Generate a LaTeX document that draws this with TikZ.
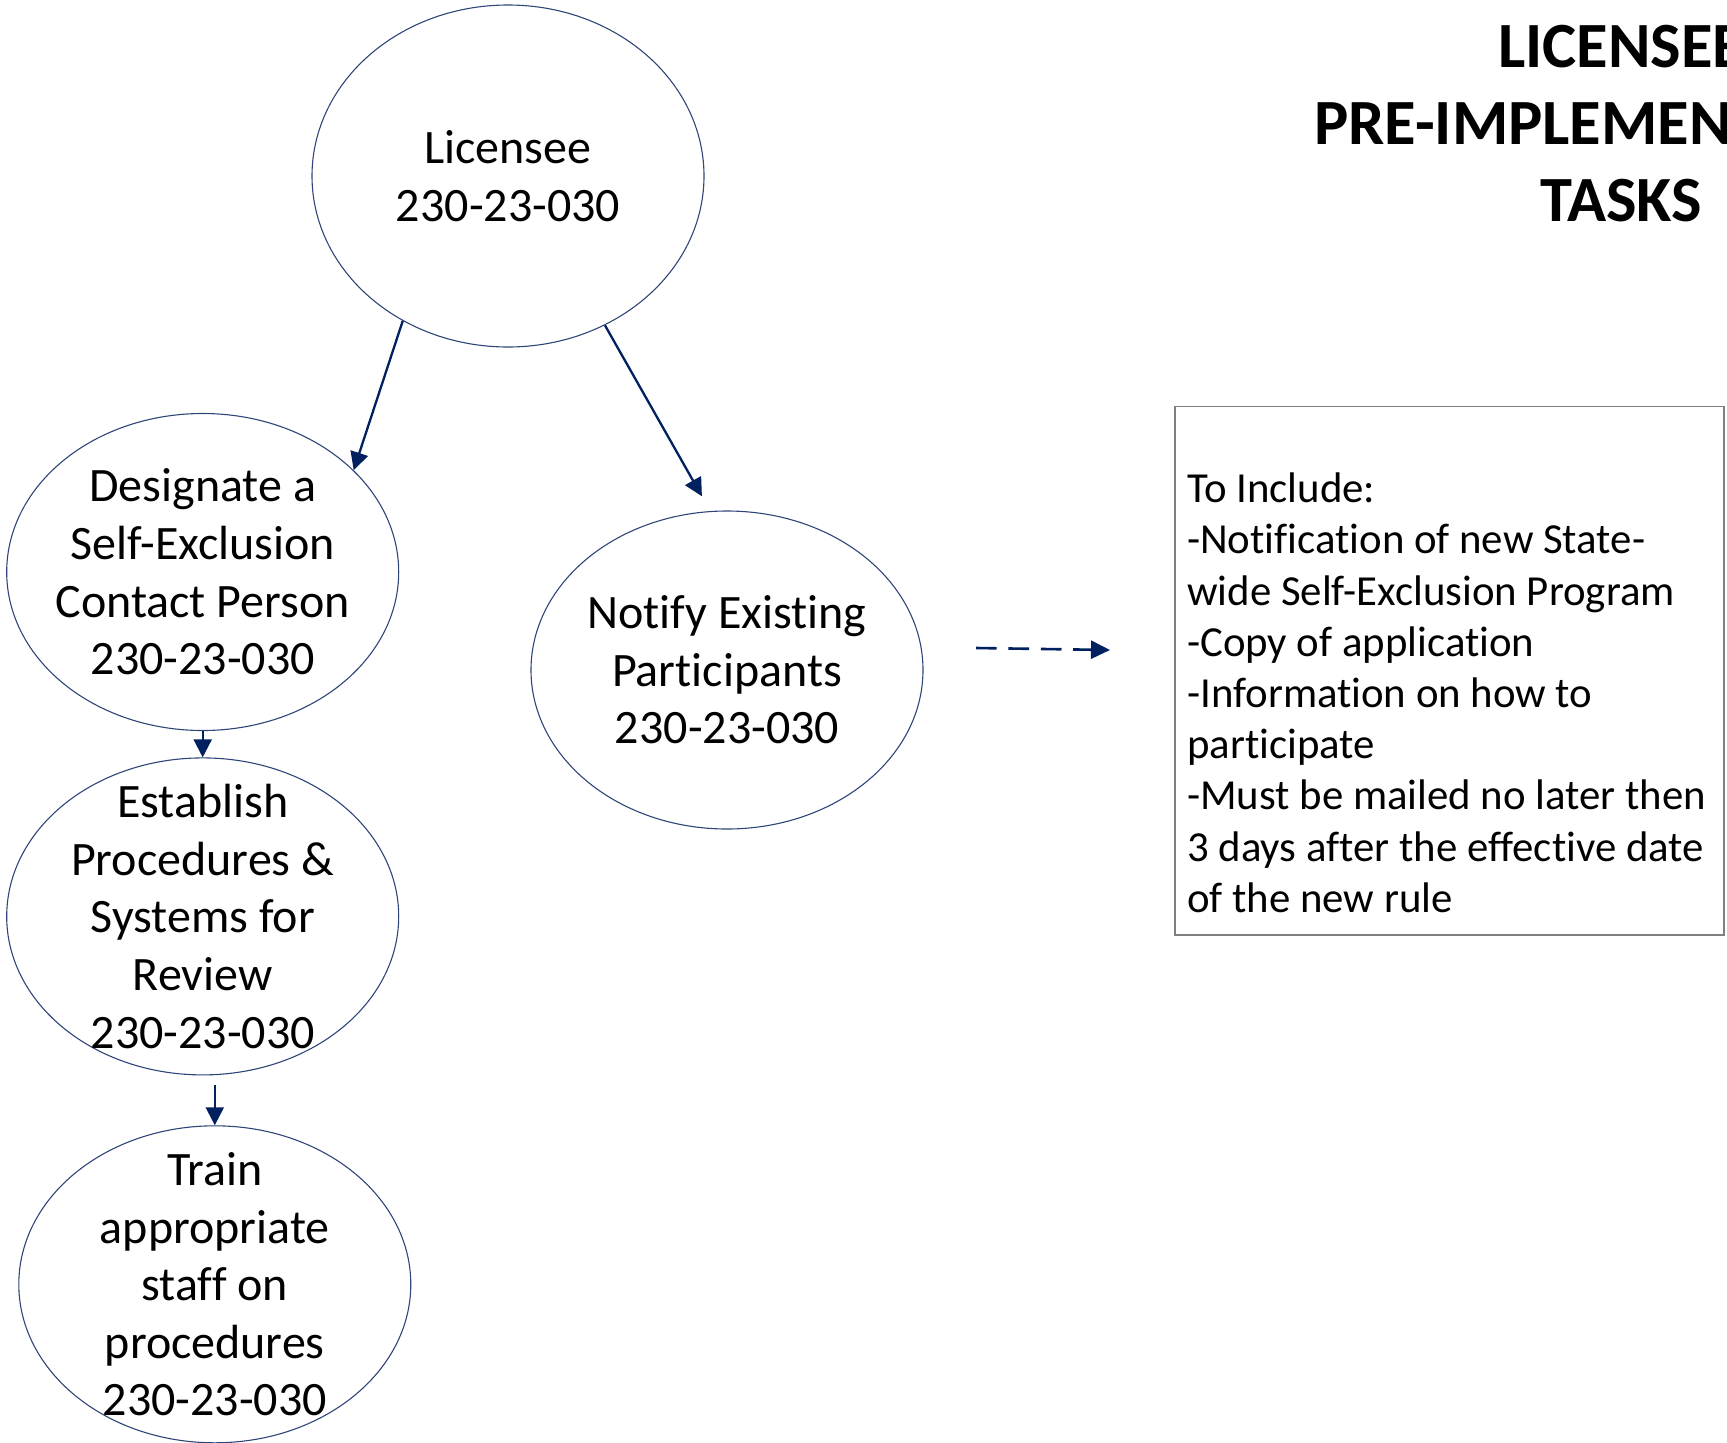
\documentclass[tikz,border=0pt]{standalone}
\usepackage{fontspec}
\setmainfont{Carlito}[Ligatures=NoCommon]
\usetikzlibrary{arrows.meta,shapes.geometric}
\definecolor{navy}{HTML}{002060}
\definecolor{ellc}{HTML}{2F4478}
\definecolor{boxgray}{HTML}{7F7F7F}
\begin{document}
\begin{tikzpicture}[x=1pt,y=-1pt,
  oval/.style={ellipse, draw=ellc, line width=1.1pt, inner sep=0pt, minimum width=392pt, minimum height=317pt},
  lbl/.style={align=center, font=\fontsize{48}{57.6}\selectfont, text=black},
  arr/.style={draw=navy, line width=2.3pt, -{Triangle[length=18pt,width=18pt]}},
  darr/.style={draw=navy, line width=2.6pt, dash pattern=on 20.7pt off 11.7pt, -{Triangle[length=19pt,width=18pt]}}]
\useasboundingbox (0,0) rectangle (1727,1443);
% title
\node[align=center, font=\fontsize{64.5}{77}\selectfont\bfseries] (title) at (1621,124) {LICENSEE\\PRE-IMPLEMENTATION\\TASKS};
% ellipses
\node[oval, minimum height=342pt, label={[lbl]center:Licensee\\230-23-030}] (lic) at (508,176) {};
\node[oval, label={[lbl]center:Designate a\\Self-Exclusion\\Contact Person\\230-23-030}] (des) at (202.7,572) {};
\node[oval, label={[lbl]center:Establish\\Procedures \&\\Systems for\\Review\\230-23-030}] (est) at (202.7,916.4) {};
\node[oval, label={[lbl]center:Train\\appropriate\\staff on\\procedures\\230-23-030}] (trn) at (214.8,1284.3) {};
\node[oval, minimum height=318pt, label={[lbl]center:Notify Existing\\Participants\\230-23-030}] (ntf) at (727,670) {};
% box
\node[draw=boxgray, line width=1.3pt, minimum width=549pt, minimum height=528.5pt, inner sep=0pt] (box) at (1449.5,670.75) {};
\node[anchor=west, align=left, font=\fontsize{42.8}{51.2}\selectfont, inner sep=0pt] (boxtxt) at (1187,692.8) {To Include:\\-Notification of new State-\\wide Self-Exclusion Program\\-Copy of application\\-Information on how to\\participate\\-Must be mailed no later then\\3 days after the effective date\\of the new rule};
% connectors
\draw[arr] (lic.234.5) -- (des.34);
\draw[arr, shorten >=17pt] (lic.303.5) -- (ntf.96.5);
\draw[arr] (des.south) -- (est.north);
\draw[arr, shorten <=10pt] (est.south -| trn.north) -- (trn.north);
\coordinate (d1) at (976,648);
\coordinate (d2) at (1110,650);
\draw[darr] (d1) -- (d2);
\end{tikzpicture}
\end{document}
